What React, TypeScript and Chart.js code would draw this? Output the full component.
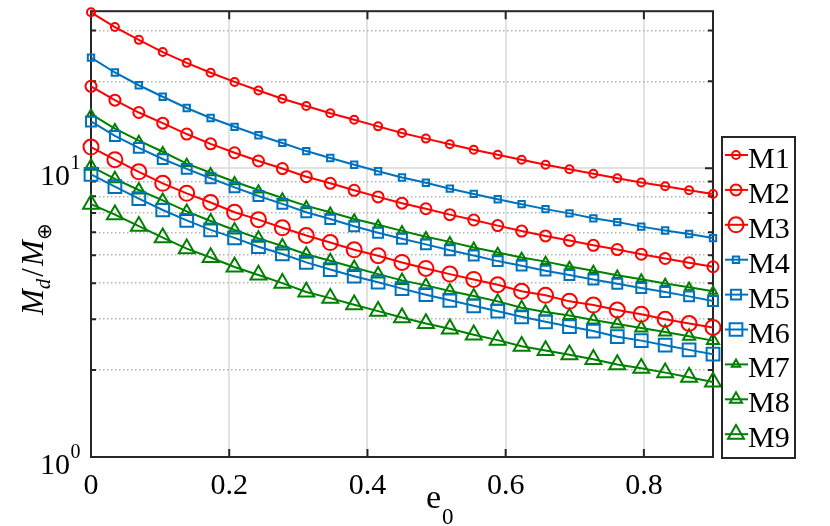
import { useEffect, useRef } from 'react'
import { Chart, registerables } from 'chart.js'
import { drawPoint } from 'chart.js/helpers'

Chart.register(...registerables)

// e0 values (27 samples, 0 .. 0.9)
const E0 = [
  0, 0.0346, 0.0692, 0.1038, 0.1385, 0.1731, 0.2077, 0.2423, 0.2769,
  0.3115, 0.3462, 0.3808, 0.4154, 0.45, 0.4846, 0.5192, 0.5538, 0.5885,
  0.6231, 0.6577, 0.6923, 0.7269, 0.7615, 0.7962, 0.8308, 0.8654, 0.9,
]

const M1 = [34.7, 30.85, 27.85, 25.27, 23.18, 21.42, 19.91, 18.59, 17.41, 16.43, 15.5, 14.72, 13.97, 13.25, 12.67, 12.12, 11.59, 11.14, 10.71, 10.29, 9.92, 9.57, 9.24, 8.93, 8.66, 8.39, 8.15]
const M2 = [19.23, 17.22, 15.6, 14.33, 13.14, 12.15, 11.32, 10.6, 9.98, 9.35, 8.87, 8.39, 7.96, 7.57, 7.24, 6.91, 6.62, 6.33, 6.06, 5.83, 5.62, 5.41, 5.23, 5.04, 4.87, 4.71, 4.56]
const M3 = [11.84, 10.71, 9.72, 8.87, 8.19, 7.61, 7.04, 6.64, 6.22, 5.85, 5.53, 5.22, 4.98, 4.72, 4.5, 4.3, 4.12, 3.95, 3.75, 3.63, 3.46, 3.36, 3.23, 3.12, 3.0, 2.9, 2.81]
const M4 = [24.16, 21.47, 19.39, 17.69, 16.17, 14.94, 13.92, 13.01, 12.24, 11.47, 10.85, 10.29, 9.77, 9.29, 8.91, 8.5, 8.15, 7.81, 7.51, 7.22, 6.98, 6.71, 6.51, 6.28, 6.09, 5.92, 5.73]
const M5 = [14.53, 12.94, 11.77, 10.77, 9.95, 9.24, 8.59, 8.02, 7.53, 7.04, 6.67, 6.3, 5.98, 5.7, 5.45, 5.2, 4.99, 4.77, 4.6, 4.42, 4.27, 4.12, 3.98, 3.85, 3.73, 3.6, 3.47]
const M6 = [9.52, 8.64, 7.85, 7.17, 6.6, 6.12, 5.74, 5.35, 5.05, 4.72, 4.46, 4.23, 4.03, 3.83, 3.65, 3.49, 3.34, 3.2, 3.06, 2.94, 2.83, 2.73, 2.61, 2.53, 2.44, 2.35, 2.27]
const M7 = [15.39, 13.71, 12.47, 11.41, 10.38, 9.65, 8.98, 8.41, 7.89, 7.41, 7.04, 6.67, 6.37, 6.07, 5.79, 5.56, 5.32, 5.11, 4.91, 4.75, 4.57, 4.42, 4.26, 4.13, 3.99, 3.87, 3.75]
const M8 = [10.16, 9.19, 8.41, 7.74, 7.09, 6.57, 6.11, 5.72, 5.38, 5.04, 4.78, 4.53, 4.3, 4.09, 3.93, 3.76, 3.61, 3.46, 3.29, 3.18, 3.09, 2.98, 2.89, 2.8, 2.71, 2.62, 2.53]
const M9 = [7.51, 6.91, 6.3, 5.75, 5.27, 4.91, 4.55, 4.27, 4.0, 3.73, 3.55, 3.37, 3.2, 3.04, 2.9, 2.78, 2.65, 2.54, 2.42, 2.34, 2.26, 2.18, 2.09, 2.03, 1.96, 1.89, 1.82]

const SERIES = [M1, M2, M3, M4, M5, M6, M7, M8, M9]
const NAMES = ['M1', 'M2', 'M3', 'M4', 'M5', 'M6', 'M7', 'M8', 'M9']

const X_TICKS = [0, 0.2, 0.4, 0.6, 0.8]
const X_LABELS = ['0', '0.2', '0.4', '0.6', '0.8']
const Y_TICKS = [1, 2, 3, 4, 5, 6, 7, 8, 9, 10, 20, 30]
const Y_MAJOR = [1, 10]
const Y_MIN = 1
const Y_MAX = 35

const RED = '#FF0000'
const BLUE = '#0072BD'
const GREEN = '#008000'

const STYLE = [
  { color: RED, shape: 'circle', r: 4 },
  { color: RED, shape: 'circle', r: 5.5 },
  { color: RED, shape: 'circle', r: 7.5 },
  { color: BLUE, shape: 'rect', r: 4.5 },
  { color: BLUE, shape: 'rect', r: 7 },
  { color: BLUE, shape: 'rect', r: 9 },
  { color: GREEN, shape: 'triangle', r: 4.8 },
  { color: GREEN, shape: 'triangle', r: 7 },
  { color: GREEN, shape: 'triangle', r: 9.2 },
]

const SERIF = "'Liberation Serif', 'Times New Roman', serif"
const INK = '#262626'

const isMajor = (v: number) => Y_MAJOR.includes(v)

const framePlugin = {
  id: 'frame',
  beforeDatasetsDraw(chart: any) {
    const { ctx, chartArea: a, scales } = chart
    const x = scales.x, y = scales.y
    ctx.save()
    ctx.strokeStyle = INK
    ctx.lineWidth = 2
    ctx.strokeRect(a.left, a.top, a.right - a.left, a.bottom - a.top)
    ctx.beginPath()
    X_TICKS.forEach(v => {
      const px = x.getPixelForValue(v)
      ctx.moveTo(px, a.bottom); ctx.lineTo(px, a.bottom - 8)
      ctx.moveTo(px, a.top); ctx.lineTo(px, a.top + 8)
    })
    Y_TICKS.forEach(v => {
      const py = y.getPixelForValue(v)
      const len = isMajor(v) ? 8 : 5
      ctx.moveTo(a.left, py); ctx.lineTo(a.left + len, py)
      ctx.moveTo(a.right, py); ctx.lineTo(a.right - len, py)
    })
    ctx.stroke()
    ctx.restore()
  },
  afterDraw(chart: any) {
    const { ctx, chartArea: a, scales } = chart
    const x = scales.x, y = scales.y
    ctx.save()
    ctx.fillStyle = '#000'

    // x tick labels
    ctx.font = `30px ${SERIF}`
    ctx.textAlign = 'center'
    ctx.textBaseline = 'alphabetic'
    X_TICKS.forEach((v, i) => ctx.fillText(X_LABELS[i], x.getPixelForValue(v), a.bottom + 37))

    // y tick labels 10^n
    Y_MAJOR.forEach(v => {
      const py = y.getPixelForValue(v)
      ctx.font = `30px ${SERIF}`
      ctx.textAlign = 'right'
      ctx.fillText('10', 70, py + 17)
      ctx.font = `20px ${SERIF}`
      ctx.textAlign = 'left'
      ctx.fillText(String(Math.round(Math.log10(v))), 70.5, py + 1)
    })

    // x title e_0
    ctx.textAlign = 'left'
    ctx.font = `34px ${SERIF}`
    ctx.fillText('e', 426, 508)
    const ew = ctx.measureText('e').width
    ctx.font = `23px ${SERIF}`
    ctx.fillText('0', 426 + ew + 1, 524)

    // y title M_d / M_⊕ (rotated)
    ctx.save()
    ctx.translate(43, 315)
    ctx.rotate(-Math.PI / 2)
    let u = 0
    const piece = (t: string, font: string, dv: number, gap = 0) => {
      ctx.font = font
      ctx.fillText(t, u, dv)
      u += ctx.measureText(t).width + gap
    }
    piece('M', `italic 31px ${SERIF}`, 0)
    piece('d', `italic 21px ${SERIF}`, 7, 2)
    piece('/', `31px ${SERIF}`, 0, 2)
    piece('M', `italic 31px ${SERIF}`, 0)
    piece('\u2295', `20px ${SERIF}`, 8)
    ctx.restore()

    // legend
    const lx = 722, ly = 137, lw = 73, lh = 321
    ctx.fillStyle = '#fff'
    ctx.fillRect(lx, ly, lw, lh)
    ctx.strokeStyle = INK
    ctx.lineWidth = 2
    ctx.strokeRect(lx, ly, lw, lh)
    chart.data.datasets.forEach((ds: any, i: number) => {
      const yc = 157.5 + i * 34.9
      ctx.strokeStyle = ds.borderColor
      ctx.lineWidth = 2
      ctx.beginPath()
      ctx.moveTo(725, yc - 2.5)
      ctx.lineTo(748, yc - 2.5)
      ctx.stroke()
      ctx.fillStyle = 'rgba(0,0,0,0)'
      drawPoint(ctx, { pointStyle: ds.pointStyle, radius: ds.pointRadius, borderWidth: ds.pointBorderWidth, rotation: 0 }, 736, yc - 2.5)
      ctx.fillStyle = '#000'
      ctx.font = `30px ${SERIF}`
      ctx.textAlign = 'left'
      ctx.fillText(ds.label, 748, yc + 10.5)
    })
    ctx.restore()
  },
}

export default function App() {
  const canvasRef = useRef<HTMLCanvasElement>(null)
  const chartRef = useRef<Chart | null>(null)

  useEffect(() => {
    if (!canvasRef.current) return
    if (chartRef.current) { chartRef.current.destroy(); chartRef.current = null }

    chartRef.current = new Chart(canvasRef.current, {
      type: 'line',
      data: {
        datasets: SERIES.map((s, i) => ({
          label: NAMES[i],
          data: s.map((v, j) => ({ x: E0[j], y: v })),
          borderColor: STYLE[i].color,
          backgroundColor: 'rgba(0,0,0,0)',
          borderWidth: 2,
          pointStyle: STYLE[i].shape,
          pointRadius: STYLE[i].r,
          pointBorderWidth: 2,
          pointBorderColor: STYLE[i].color,
          pointBackgroundColor: 'rgba(0,0,0,0)',
          tension: 0,
          clip: false,
        })),
      } as any,
      options: {
        animation: false,
        responsive: true,
        maintainAspectRatio: false,
        layout: { padding: { left: 91, top: 6, right: 117, bottom: 69 } },
        plugins: { legend: { display: false }, tooltip: { enabled: false } },
        scales: {
          x: {
            type: 'linear',
            min: 0,
            max: 0.9,
            afterBuildTicks: (s: any) => { s.ticks = X_TICKS.map(v => ({ value: v })) },
            ticks: { display: false },
            grid: {
              drawTicks: false,
              lineWidth: 2,
              color: (c: any) => (c.tick && c.tick.value > 0 ? '#e2e2e2' : 'rgba(0,0,0,0)'),
            },
            border: { display: false },
          },
          y: {
            type: 'logarithmic',
            min: Y_MIN,
            max: Y_MAX,
            afterBuildTicks: (s: any) => { s.ticks = Y_TICKS.map(v => ({ value: v })) },
            ticks: { display: false },
            grid: {
              drawTicks: false,
              lineWidth: (c: any) => (c.tick && isMajor(c.tick.value) ? 2 : 1.5),
              color: (c: any) => (c.tick && isMajor(c.tick.value) ? '#e2e2e2' : '#b4b4b4'),
            },
            border: { display: false, dash: (c: any) => (c.tick && isMajor(c.tick.value) ? [] : [1.5, 2.5]) },
          },
        },
      } as any,
      plugins: [framePlugin],
    })

    return () => { chartRef.current?.destroy(); chartRef.current = null }
  }, [])

  return (
    <div style={{ position: 'fixed', left: 0, top: 0, width: 830, height: 526, background: '#fff' }}>
      <canvas ref={canvasRef} />
    </div>
  )
}
